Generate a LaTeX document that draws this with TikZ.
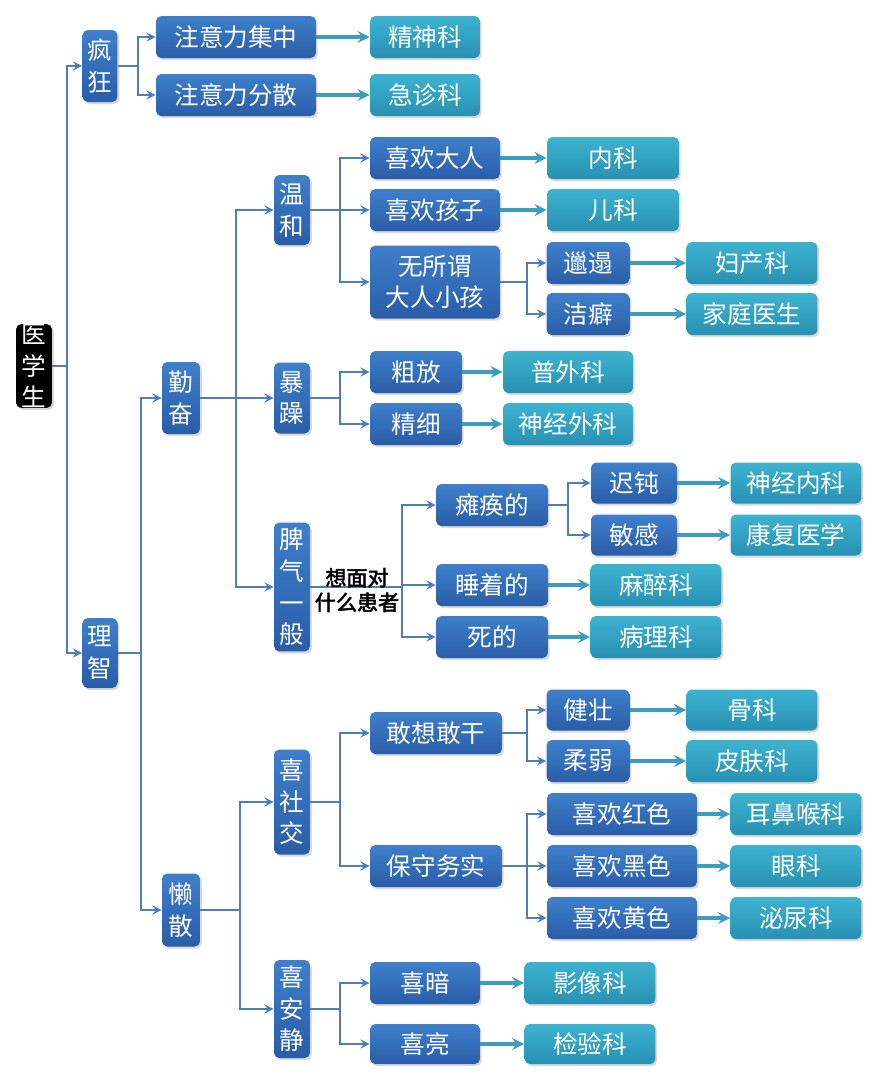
\documentclass[tikz,border=0pt]{standalone}
\usepackage{fontspec}
\setmainfont{Noto Sans CJK SC}[AutoFakeBold=2.5]
\usetikzlibrary{shadows}
\definecolor{boxtop}{HTML}{3E7FCB}
\definecolor{boxbot}{HTML}{2A5DA8}
\definecolor{leaftop}{HTML}{3DB3D0}
\definecolor{leafbot}{HTML}{2891B3}
\definecolor{linkcol}{HTML}{4F7DB8}
\definecolor{leafcol}{HTML}{3C9CC0}
\tikzset{
  base/.style={rounded corners=3pt,text=white,inner sep=0pt,align=center,
    font=\fontsize{14}{18}\selectfont,
    drop shadow={opacity=0.3,shadow xshift=1pt,shadow yshift=-1.2pt}},
  blk/.style={base,top color=boxtop,bottom color=boxbot},
  lf/.style={base,top color=leaftop,bottom color=leafbot},
  root/.style={base,fill=black,drop shadow={opacity=0}},
  link/.style={draw=linkcol,line width=1.3pt,-stealth},
  leaf/.style={draw=leafcol,line width=2pt,-stealth}
}
% parent, horizontal run to the bus, children
\newcommand\branch[3]{\foreach \c in {#3}{\draw[link] (#1.east) -- ++(#2,0) |- (\c.west);}}
\begin{document}
\begin{tikzpicture}[x=0.02cm,y=-0.02cm]
  \useasboundingbox (0,0) rectangle (879,1080);
  % left column
  \node[root,minimum width=0.72cm,minimum height=1.44cm] (med) at (34,366) {医\\学\\生};
  \node[blk,minimum width=0.7cm,minimum height=1.44cm] (crazy) at (100,66) {疯\\狂};
  \node[blk,minimum width=0.7cm,minimum height=1.4cm] (sane) at (100,653) {理\\智};
  \node[blk,minimum width=3.2cm,minimum height=0.84cm] (focus) at (236,37) {注意力集中};
  \node[blk,minimum width=3.2cm,minimum height=0.84cm] (scatter) at (236,95) {注意力分散};
  \node[lf,minimum width=2.2cm,minimum height=0.84cm] (psy) at (425,37) {精神科};
  \node[lf,minimum width=2.2cm,minimum height=0.84cm] (er) at (425,95) {急诊科};
  \node[blk,minimum width=0.76cm,minimum height=1.44cm] (diligent) at (181,398) {勤\\奋};
  \node[blk,minimum width=0.76cm,minimum height=1.46cm] (lazy) at (181,910) {懒\\散};
  % temper
  \node[blk,minimum width=0.72cm,minimum height=1.4cm] (mild) at (292,210) {温\\和};
  \node[blk,minimum width=0.72cm,minimum height=1.42cm] (rash) at (292,398) {暴\\躁};
  \node[blk,minimum width=0.72cm,minimum height=2.58cm] (plain) at (292,587) {脾\\气\\一\\般};
  \node[blk,minimum width=0.72cm,minimum height=2.1cm] (social) at (292,802) {喜\\社\\交};
  \node[blk,minimum width=0.72cm,minimum height=1.96cm] (quiet) at (292,1009) {喜\\安\\静};
  % mild
  \node[blk,minimum width=2.6cm,minimum height=0.84cm] (adult) at (435,158) {喜欢大人};
  \node[blk,minimum width=2.6cm,minimum height=0.84cm] (child) at (435,210) {喜欢孩子};
  \node[blk,minimum width=2.6cm,minimum height=1.46cm] (either) at (435,282) {无所谓\\大人小孩};
  \node[lf,minimum width=2.64cm,minimum height=0.84cm] (intern) at (613,158) {内科};
  \node[lf,minimum width=2.64cm,minimum height=0.84cm] (pedia) at (613,210) {儿科};
  \node[blk,minimum width=1.66cm,minimum height=0.84cm] (sloppy) at (588,263) {邋遢};
  \node[blk,minimum width=1.66cm,minimum height=0.84cm] (neat) at (588,314) {洁癖};
  \node[lf,minimum width=2.62cm,minimum height=0.84cm] (obgyn) at (752,263) {妇产科};
  \node[lf,minimum width=2.62cm,minimum height=0.84cm] (family) at (752,314) {家庭医生};
  % rash
  \node[blk,minimum width=1.84cm,minimum height=0.84cm] (rough) at (416,372) {粗放};
  \node[blk,minimum width=1.84cm,minimum height=0.84cm] (fine) at (416,424) {精细};
  \node[lf,minimum width=2.6cm,minimum height=0.84cm] (gsurg) at (568,372) {普外科};
  \node[lf,minimum width=2.6cm,minimum height=0.84cm] (nsurg) at (568,424) {神经外科};
  % plain
  \node[blk,minimum width=2.24cm,minimum height=0.84cm] (para) at (492,505) {瘫痪的};
  \node[blk,minimum width=2.24cm,minimum height=0.84cm] (sleep) at (492,585) {睡着的};
  \node[blk,minimum width=2.24cm,minimum height=0.84cm] (dead) at (492,637) {死的};
  \node[blk,minimum width=1.72cm,minimum height=0.82cm] (dull) at (634,483) {迟钝};
  \node[blk,minimum width=1.72cm,minimum height=0.82cm] (sens) at (634,535) {敏感};
  \node[lf,minimum width=2.62cm,minimum height=0.82cm] (neuro) at (796,483) {神经内科};
  \node[lf,minimum width=2.62cm,minimum height=0.82cm] (rehab) at (796,535) {康复医学};
  \node[lf,minimum width=2.62cm,minimum height=0.84cm] (anest) at (656,585) {麻醉科};
  \node[lf,minimum width=2.62cm,minimum height=0.84cm] (patho) at (656,637) {病理科};
  % social
  \node[blk,minimum width=2.64cm,minimum height=0.84cm] (bold) at (436,733) {敢想敢干};
  \node[blk,minimum width=2.64cm,minimum height=0.84cm] (prag) at (436,866) {保守务实};
  \node[blk,minimum width=1.66cm,minimum height=0.82cm] (strong) at (588,710) {健壮};
  \node[blk,minimum width=1.66cm,minimum height=0.84cm] (weak) at (588,761) {柔弱};
  \node[lf,minimum width=2.62cm,minimum height=0.82cm] (ortho) at (752,710) {骨科};
  \node[lf,minimum width=2.62cm,minimum height=0.84cm] (derm) at (752,761) {皮肤科};
  \node[blk,minimum width=3cm,minimum height=0.84cm] (red) at (622,814) {喜欢红色};
  \node[blk,minimum width=3cm,minimum height=0.84cm] (black) at (622,866) {喜欢黑色};
  \node[blk,minimum width=3cm,minimum height=0.84cm] (yellow) at (622,918) {喜欢黄色};
  \node[lf,minimum width=2.62cm,minimum height=0.84cm] (ent) at (796,814) {耳鼻喉科};
  \node[lf,minimum width=2.62cm,minimum height=0.84cm] (eye) at (796,866) {眼科};
  \node[lf,minimum width=2.62cm,minimum height=0.84cm] (uro) at (796,918) {泌尿科};
  % quiet
  \node[blk,minimum width=2.2cm,minimum height=0.84cm] (dark) at (425,983) {喜暗};
  \node[blk,minimum width=2.2cm,minimum height=0.8cm] (light) at (425,1044) {喜亮};
  \node[lf,minimum width=2.62cm,minimum height=0.84cm] (radio) at (590,983) {影像科};
  \node[lf,minimum width=2.62cm,minimum height=0.8cm] (lab) at (590,1044) {检验科};
  % buses
  \branch{med}{15}{crazy,sane}
  \branch{crazy}{20}{focus,scatter}
  \branch{sane}{23}{diligent,lazy}
  \branch{diligent}{36}{mild,rash,plain}
  \branch{lazy}{40}{social,quiet}
  \branch{mild}{30}{adult,child,either}
  \branch{either}{27}{sloppy,neat}
  \branch{rash}{30}{rough,fine}
  \branch{plain}{92}{para,sleep,dead}
  \branch{para}{20}{dull,sens}
  \branch{social}{30}{bold,prag}
  \branch{bold}{25}{strong,weak}
  \branch{prag}{25}{red,black,yellow}
  \branch{quiet}{30}{dark,light}
  \node[font=\bfseries\fontsize{12}{14}\selectfont,align=center,inner sep=0pt] (ask) at (357,590) {想面对\\什么患者};
  % leaves
  \foreach \a/\b in {focus/psy,scatter/er,adult/intern,child/pedia,sloppy/obgyn,neat/family,
    rough/gsurg,fine/nsurg,dull/neuro,sens/rehab,sleep/anest,dead/patho,strong/ortho,weak/derm,
    red/ent,black/eye,yellow/uro,dark/radio,light/lab}
    \draw[leaf] (\a.east) -- (\b.west);
\end{tikzpicture}
\end{document}
